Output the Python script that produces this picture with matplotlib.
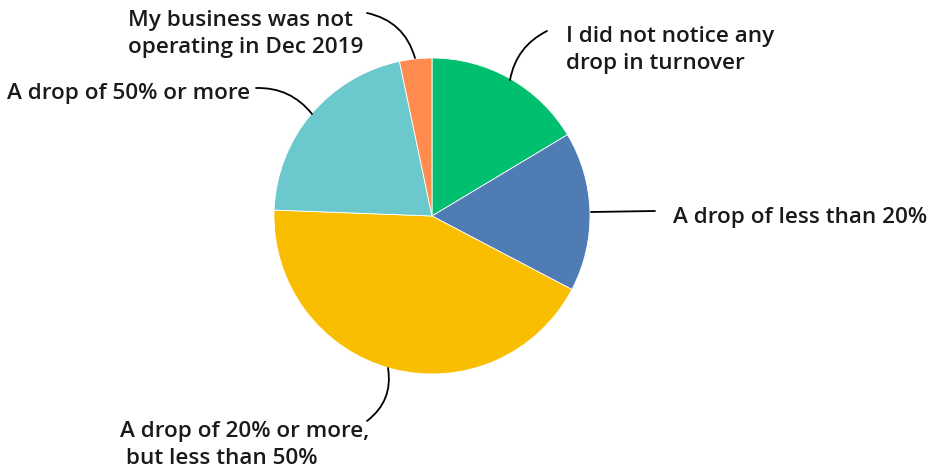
import matplotlib
matplotlib.use("Agg")
import matplotlib.pyplot as plt

labels = ["I did not notice any\ndrop in turnover",
          "A drop of less than 20%",
          "A drop of 20% or more,\n but less than 50%",
          "A drop of 50% or more",
          "My business was not\noperating in Dec 2019"]
shares = [16.4, 16.3, 42.9, 21.1, 3.3]
colors = ["#00BF6F", "#507CB6", "#F9BE00", "#6BC8CD", "#FF8B4F"]

W, H = 931, 471
fig = plt.figure(figsize=(W/100, H/100), dpi=100)
ax = fig.add_axes([0, 0, 1, 1])

# pixel-ish coordinates, y measured from the bottom
cx, cy, r = 432, H - 216, 158
ax.pie(shares, colors=colors, startangle=90, counterclock=False,
       center=(cx, cy), radius=r, frame=False,
       wedgeprops=dict(edgecolor="white", linewidth=0.6))

ax.set_xlim(0, W); ax.set_ylim(0, H)
ax.set_aspect("equal"); ax.axis("off")

font = dict(family="Open Sans", weight="semibold", fontsize=16.2,
            color="#1a1a1a", linespacing=1.36)

# (edge point, line end, curve, text pos, ha)
leaders = [
    ((510, 80), (547, 31), 0.25, (566, 50), "left"),
    ((591, 212), (655, 211), 0.0, (673, 218), "left"),
    ((388, 368), (367, 421), 0.3, (120, 445), "left"),
    ((312, 114), (256, 88), -0.25, (250, 94), "right"),
    ((415, 58), (367, 13), -0.3, (128, 34), "left"),
]
for lab, (p0, p1, rad, tp, ha) in zip(labels, leaders):
    ax.annotate("", xy=(p0[0], H - p0[1]), xytext=(p1[0], H - p1[1]),
                arrowprops=dict(arrowstyle="-", color="black", lw=1.3,
                                connectionstyle=f"arc3,rad={rad}",
                                shrinkA=0, shrinkB=0))
    ax.text(tp[0], H - tp[1], lab, ha=ha, va="center", **font)

fig.savefig("out.png", dpi=100)
